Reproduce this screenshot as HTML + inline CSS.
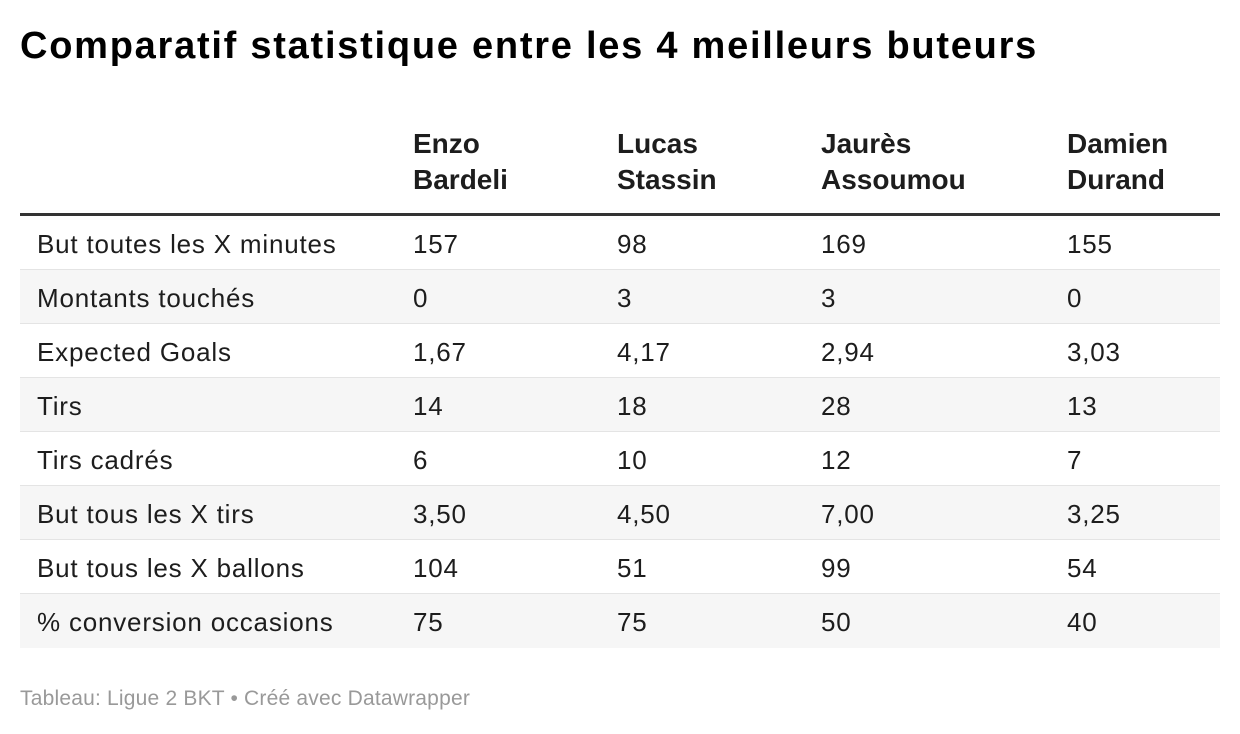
<!DOCTYPE html>
<html><head><meta charset="utf-8"><style>
body{margin:0;width:1240px;height:734px;background:#fff;font-family:"Liberation Sans",sans-serif;color:#1d1d1d;position:relative;overflow:hidden}
.t{position:absolute;left:20px;top:25px;font-size:38px;font-weight:bold;letter-spacing:1.75px;color:#000;white-space:nowrap}
.h{position:absolute;top:126px;font-size:28px;font-weight:bold;line-height:36px;color:#1d1d1d}
.rule{position:absolute;left:20px;width:1200px;top:213px;height:3px;background:#333}
.row{position:absolute;left:20px;width:1200px;height:53px;border-bottom:1px solid #e4e4e4;font-size:26px;letter-spacing:0.8px}
.row span{position:absolute;top:13px;white-space:nowrap}
.s{background:#f6f6f6}
.f{position:absolute;left:20px;top:687px;font-size:21px;color:#999;letter-spacing:0.2px}
</style></head><body>
<div class="t">Comparatif statistique entre les 4 meilleurs buteurs</div>
<div class="h" style="left:413px">Enzo<br>Bardeli</div>
<div class="h" style="left:617px">Lucas<br>Stassin</div>
<div class="h" style="left:821px">Jaurès<br>Assoumou</div>
<div class="h" style="left:1067px">Damien<br>Durand</div>
<div class="rule"></div>
<div class="row" style="top:216px"><span style="left:17px">But toutes les X minutes</span><span style="left:393px">157</span><span style="left:597px">98</span><span style="left:801px">169</span><span style="left:1047px">155</span></div>
<div class="row s" style="top:270px"><span style="left:17px">Montants touchés</span><span style="left:393px">0</span><span style="left:597px">3</span><span style="left:801px">3</span><span style="left:1047px">0</span></div>
<div class="row" style="top:324px"><span style="left:17px">Expected Goals</span><span style="left:393px">1,67</span><span style="left:597px">4,17</span><span style="left:801px">2,94</span><span style="left:1047px">3,03</span></div>
<div class="row s" style="top:378px"><span style="left:17px">Tirs</span><span style="left:393px">14</span><span style="left:597px">18</span><span style="left:801px">28</span><span style="left:1047px">13</span></div>
<div class="row" style="top:432px"><span style="left:17px">Tirs cadrés</span><span style="left:393px">6</span><span style="left:597px">10</span><span style="left:801px">12</span><span style="left:1047px">7</span></div>
<div class="row s" style="top:486px"><span style="left:17px">But tous les X tirs</span><span style="left:393px">3,50</span><span style="left:597px">4,50</span><span style="left:801px">7,00</span><span style="left:1047px">3,25</span></div>
<div class="row" style="top:540px"><span style="left:17px">But tous les X ballons</span><span style="left:393px">104</span><span style="left:597px">51</span><span style="left:801px">99</span><span style="left:1047px">54</span></div>
<div class="row s" style="top:594px;border-bottom:none;height:54px"><span style="left:17px">% conversion occasions</span><span style="left:393px">75</span><span style="left:597px">75</span><span style="left:801px">50</span><span style="left:1047px">40</span></div>
<div class="f">Tableau: Ligue 2 BKT • Créé avec Datawrapper</div>
</body></html>
